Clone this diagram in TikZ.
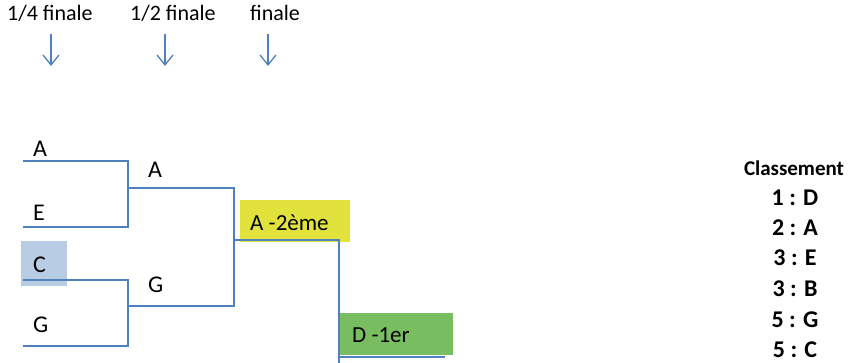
\documentclass[tikz,border=0pt]{standalone}
\usepackage{fontspec}
\setmainfont{Carlito}
\usepackage{xcolor}
\usetikzlibrary{arrows.meta, positioning}

\begin{document}
\begin{tikzpicture}[x=1pt,y=-1pt]
\definecolor{ligne}{RGB}{79,129,189}
\definecolor{jaune}{RGB}{226,226,60}
\definecolor{vert}{RGB}{120,190,96}
\definecolor{bleu}{RGB}{184,204,228}
\tikzset{
  txt/.style={inner sep=0pt, anchor=base west, font=\fontsize{22}{24}\selectfont},
  lettre/.style={txt, font=\fontsize{24}{26}\selectfont},
  rang/.style={inner sep=0pt, anchor=base, font=\fontsize{24}{26}\selectfont\bfseries},
  trait/.style={draw=ligne, line width=1.1pt},
  fleche/.style={draw=ligne, line width=1.3pt, -{Straight Barb[length=10pt,width=16pt,line width=1.3pt]}}
}
\useasboundingbox (0,0) rectangle (850,363);

% Rounds
\node[txt] (quart) at (7,21) {1/4 finale};
\node[txt] (demi) at (130,21) {1/2 finale};
\node[txt] (fin) at (250,21) {finale};
\coordinate (fq1) at (51,34);  \coordinate (fq2) at (51,66);
\coordinate (fd1) at (165,34); \coordinate (fd2) at (165,66);
\coordinate (ff1) at (268,34); \coordinate (ff2) at (268,66);
\draw[fleche] (fq1) -- (fq2);
\draw[fleche] (fd1) -- (fd2);
\draw[fleche] (ff1) -- (ff2);

% Boxes
\fill[bleu] (21,241) rectangle (67,286);
\fill[jaune] (240,200) rectangle (350,242);
\fill[vert] (340,313) rectangle (453,355);

% 1/4 finale
\coordinate (a0) at (23,161);  \coordinate (a1) at (128,161);
\coordinate (e0) at (23,227);  \coordinate (e1) at (128,227);
\coordinate (c0) at (23,280);  \coordinate (c1) at (128,280);
\coordinate (g0) at (23,346);  \coordinate (g1) at (128,346);
\draw[trait] (a0) -- (a1) -- (e1) -- (e0);
\draw[trait] (c0) -- (c1) -- (g1) -- (g0);
\node[lettre] (qA) at (33,157) {A};
\node[lettre] (qE) at (33,220) {E};
\node[lettre] (qC) at (33,272) {C};
\node[lettre] (qG) at (33,332) {G};

% 1/2 finale
\coordinate (da0) at (128,188); \coordinate (da1) at (234,188);
\coordinate (dg0) at (128,306); \coordinate (dg1) at (234,306);
\draw[trait] (da0) -- (da1) -- (dg1) -- (dg0);
\node[lettre] (dA) at (148,178) {A};
\node[lettre] (dG) at (148,292) {G};

% finale
\coordinate (f0) at (234,240); \coordinate (f1) at (339,240);
\coordinate (f2) at (339,363);
\coordinate (v0) at (339,357); \coordinate (v1) at (445,357);
\draw[trait] (f0) -- (f1) -- (f2);
\draw[trait] (v0) -- (v1);
\node[txt, font=\fontsize{23}{25}\selectfont] (second) at (250,230) {A -2ème};
\node[txt, font=\fontsize{23}{25}\selectfont] (premier) at (352,342) {D -1er};

% Classement
\node[rang, font=\fontsize{21}{24}\selectfont\bfseries] (titre) at (794,176) {Classement};
\node[rang] (r1) at (795,206) {1 : D};
\node[rang] (r2) at (795,235) {2 : A};
\node[rang] (r3) at (795,265) {3 : E};
\node[rang] (r4) at (795,296) {3 : B};
\node[rang] (r5) at (795,327) {5 : G};
\node[rang] (r6) at (795,357) {5 : C};

\end{tikzpicture}
\end{document}
